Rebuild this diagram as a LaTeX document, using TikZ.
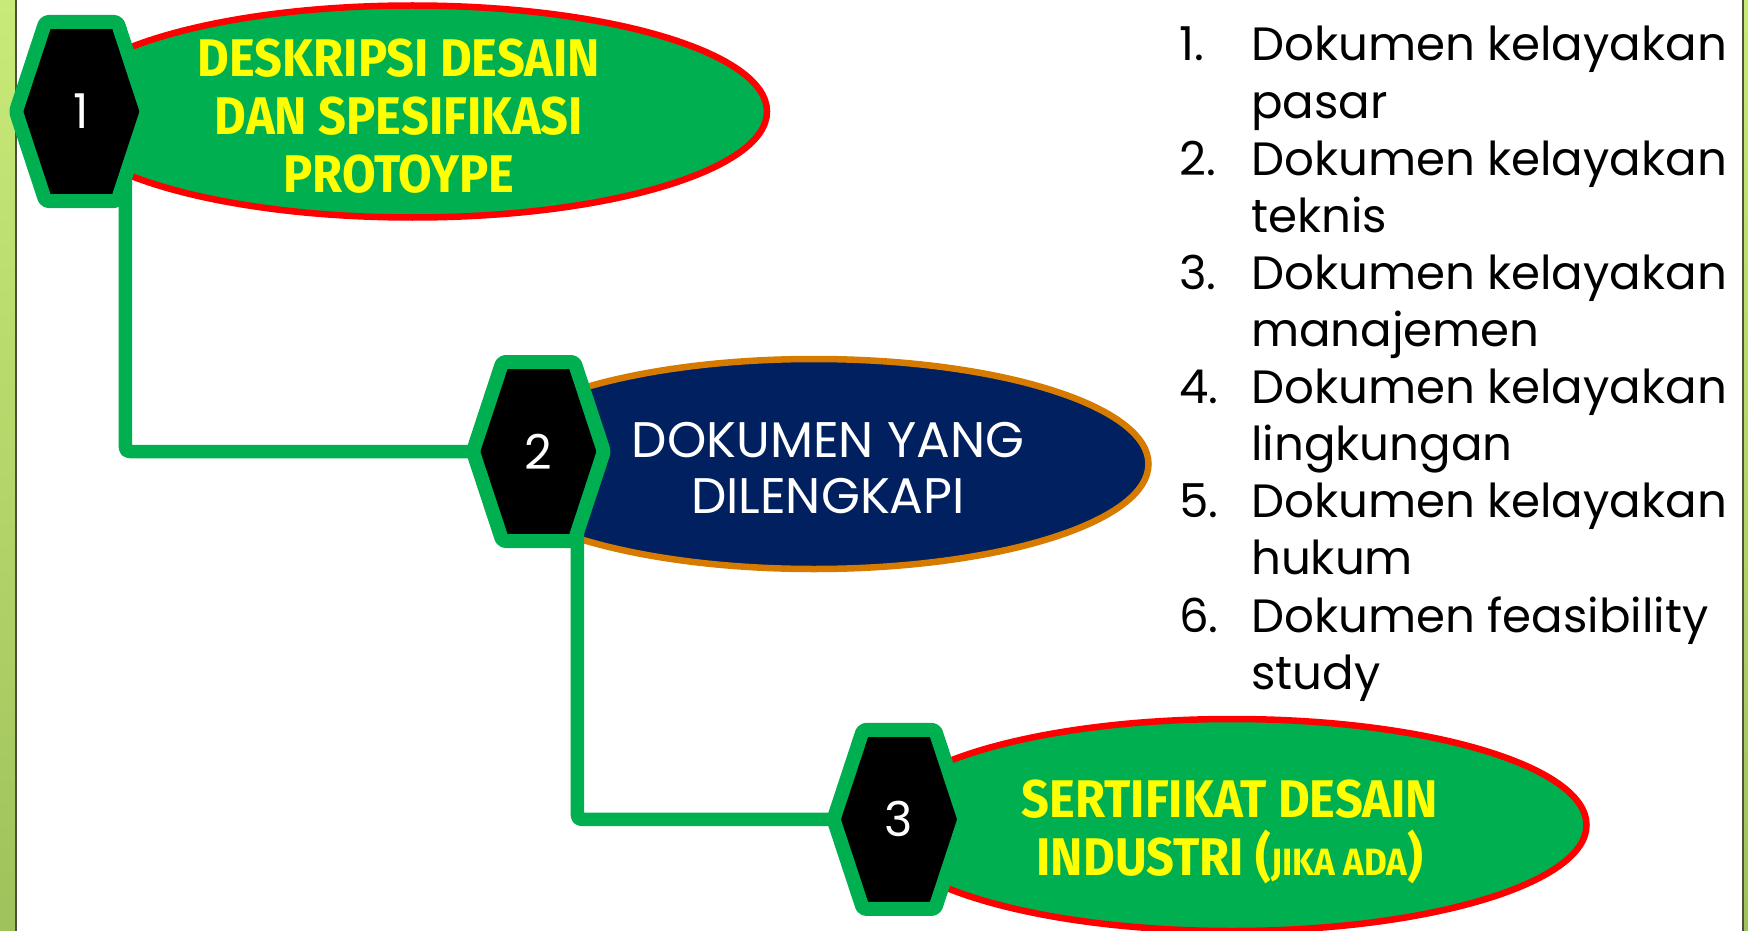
\documentclass[tikz,border=0pt]{standalone}
\usepackage{fontspec}
\setmainfont{Poppins}
\newfontfamily\condb[FakeStretch=0.92]{Fira Sans}
\usetikzlibrary{calc,shapes.geometric}
\definecolor{pgreen}{HTML}{00B050}
\definecolor{pnavy}{HTML}{002060}
\definecolor{porange}{HTML}{D67A00}
\definecolor{pyellow}{HTML}{FFFF00}
\definecolor{pred}{HTML}{FF0000}
\definecolor{stripA}{HTML}{C8EA78}
\definecolor{stripB}{HTML}{A0C25C}
\definecolor{stripline}{HTML}{4A5238}
\tikzset{
  ellbox/.style={ellipse, inner sep=0pt, minimum width=709pt, minimum height=212pt, line width=6.5pt},
  greenell/.style={ellbox, draw=pred, fill=pgreen},
  navyell/.style={ellbox, draw=porange, fill=pnavy, minimum width=669pt, minimum height=210pt, line width=6.5pt},
  hexs/.style={draw=pgreen, fill=black, line width=14pt, line join=round, rounded corners=3pt},
  conn/.style={draw=pgreen, line width=13.5pt, line join=round, rounded corners=4pt},
  numtext/.style={text=white, inner sep=0pt, font=\fontsize{48}{56}\selectfont},
  boldtext/.style={text=pyellow, align=center, inner sep=0pt, font=\condb\bfseries\fontsize{53}{58}\selectfont},
  lighttext/.style={text=white, align=center, inner sep=0pt, font=\fontsize{50}{56}\selectfont},
  listtext/.style={text=black, anchor=base west, inner sep=0pt, font=\fontsize{46.7}{57}\selectfont},
}
\def\drawhex#1{%
  \draw[hexs] ($(#1)+(-65.5,0)$) -- ($(#1)+(-36,-89.5)$) -- ($(#1)+(36,-89.5)$)
    -- ($(#1)+(65.5,0)$) -- ($(#1)+(36,89.5)$) -- ($(#1)+(-36,89.5)$) -- cycle;}
\begin{document}
\begin{tikzpicture}[x=1pt,y=-1pt]
\useasboundingbox (0,0) rectangle (1748,931);
\fill[white] (0,0) rectangle (1748,931);
% side strips
\shade[top color=stripA, bottom color=stripB] (0,0) rectangle (15,931);
\draw[stripline, line width=2pt] (16,0) -- (16,931);
\shade[top color=stripA, bottom color=stripB] (1744,0) rectangle (1748,931);
\draw[stripline, line width=2pt] (1743,0) -- (1743,931);
% ellipses
\node[greenell] (e1) at (412.5,111.5) {};
\node[navyell] (e2) at (814,464) {};
\node[greenell] (e3) at (1232,825) {};
% ellipse texts
\node[boldtext] (t1) at (399,116) {DESKRIPSI DESAIN\\DAN SPESIFIKASI\\PROTOYPE};
\node[lighttext] (t2) at (828,468) {DOKUMEN YANG\\DILENGKAPI};
\node[boldtext] (t3) at (1230,832) {SERTIFIKAT DESAIN\\INDUSTRI ({\fontsize{38}{58}\selectfont JIKA ADA})};
% hexagon centres
\coordinate (h1) at (81.4,111.5);
\coordinate (h2) at (538.4,451.5);
\coordinate (h3) at (899,819.4);
\coordinate (h1b) at ($(h1)+(44,60)$);
\coordinate (h2w) at ($(h2)+(-50,0)$);
\coordinate (h2b) at ($(h2)+(39,60)$);
\coordinate (h3w) at ($(h3)+(-50,0)$);
% connectors
\draw[conn] (h1b) |- (h2w);
\draw[conn] (h2b) |- (h3w);
% hexagons
\drawhex{h1}
\drawhex{h2}
\drawhex{h3}
\node[numtext] (k1) at (h1) {1};
\node[numtext] (k2) at (h2) {2};
\node[numtext] (k3) at (h3) {3};
% list
\foreach \t [count=\i from 0] in {Dokumen kelayakan, pasar, Dokumen kelayakan, teknis, Dokumen kelayakan, manajemen, Dokumen kelayakan, lingkungan, Dokumen kelayakan, hukum, Dokumen feasibility, study}
  \node[listtext] (l\i) at (1251,{61+\i*57.1}) {\t};
\foreach \n in {1,...,6}
  \node[listtext] (m\n) at (1179,{61+(\n-1)*2*57.1}) {\n.};
\end{tikzpicture}
\end{document}
